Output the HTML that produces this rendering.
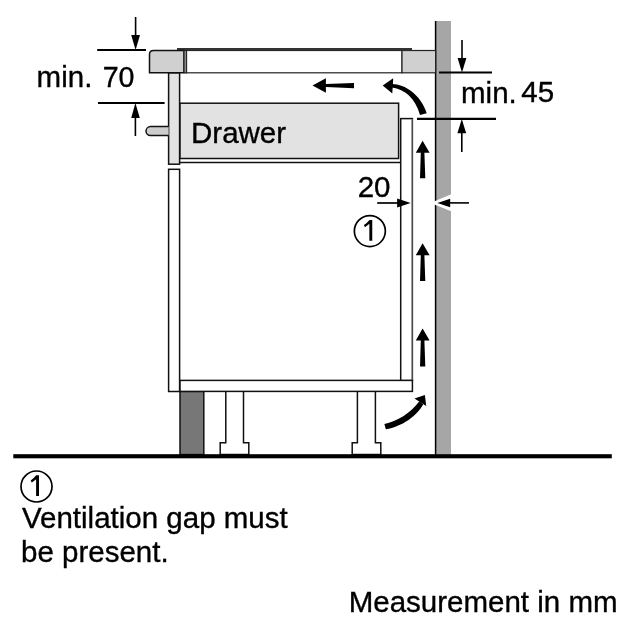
<!DOCTYPE html>
<html><head><meta charset="utf-8">
<style>
html,body{margin:0;padding:0;background:#fff;width:625px;height:625px;overflow:hidden}
svg{display:block;will-change:transform}
text{font-family:"Liberation Sans",sans-serif;fill:#000;stroke:#000;stroke-width:0.35px}
</style></head>
<body>
<svg width="625" height="625" viewBox="0 0 625 625">
<rect x="0" y="0" width="625" height="625" fill="#fff"/>

<!-- wall -->
<rect x="436" y="21" width="15" height="434" fill="#a6a6a6"/>
<line x1="435.6" y1="21" x2="435.6" y2="455" stroke="#000" stroke-width="1.5"/>

<!-- hob -->
<rect x="186" y="50.5" width="216" height="22.3" fill="#fff" stroke="#222" stroke-width="1.2"/>
<rect x="402" y="50.5" width="33.6" height="22.3" fill="#d0d0d0" stroke="#222" stroke-width="1.2"/>
<line x1="177" y1="49.2" x2="412" y2="49.2" stroke="#333" stroke-width="2.6"/>
<!-- counter block left -->
<path d="M149.5 72.8 V54.5 Q149.5 50.5 153.5 50.5 H184 V72.8 Z" fill="#d0d0d0" stroke="#111" stroke-width="1.5"/>
<rect x="184" y="50.5" width="2.6" height="22.3" fill="#8a8a8a" stroke="#222" stroke-width="1.1"/>

<!-- drawer front panel -->
<rect x="168.6" y="73" width="11" height="91.2" fill="#e2e2e2" stroke="#111" stroke-width="1.5"/>
<!-- lower door panel -->
<rect x="168.6" y="169.3" width="11" height="222.2" fill="#fff" stroke="#111" stroke-width="1.5"/>
<!-- handle -->
<path d="M168.6 126.6 H150.5 A4.5 4.5 0 0 0 150.5 135.6 H168.6" fill="#cdcdcd" stroke="#111" stroke-width="1.5"/>

<!-- drawer box -->
<rect x="180" y="103.2" width="218.6" height="55.3" fill="#e2e2e2" stroke="#111" stroke-width="1.5"/>
<line x1="180" y1="162.5" x2="400.6" y2="162.5" stroke="#111" stroke-width="1.5"/>

<!-- right back panel -->
<rect x="400.7" y="118.6" width="11.7" height="262" fill="#fff" stroke="#111" stroke-width="1.5"/>
<line x1="412.4" y1="119.4" x2="412.4" y2="380" stroke="#fff" stroke-width="1.6"/><line x1="412.3" y1="119.4" x2="412.3" y2="380" stroke="#444" stroke-width="1.3"/>

<!-- plinth -->
<rect x="180" y="391.4" width="23.8" height="63.2" fill="#777" stroke="#111" stroke-width="1.5"/>
<!-- legs -->
<path d="M225.8 391.4 V442.7 H220.2 V454.5 H248.8 V442.7 H243.5 V391.4" fill="#fff" stroke="#111" stroke-width="1.5"/>
<path d="M357.4 391.4 V442.7 H352.2 V454.5 H380.8 V442.7 H375.4 V391.4" fill="#fff" stroke="#111" stroke-width="1.5"/>

<!-- bottom board -->
<rect x="180" y="380.4" width="232.4" height="11" fill="#fff" stroke="#111" stroke-width="1.5"/>
<!-- floor -->
<rect x="13.3" y="454.2" width="598.5" height="4.1" fill="#000"/>

<!-- dim min 70 -->
<line x1="97.2" y1="50" x2="146" y2="50" stroke="#000" stroke-width="2.2"/>
<line x1="135.6" y1="17" x2="135.6" y2="38" stroke="#000" stroke-width="1.6"/>
<path d="M131.2 35 H140 L135.6 50 Z" fill="#000"/>
<line x1="98" y1="103" x2="164.6" y2="103" stroke="#000" stroke-width="2.2"/>
<line x1="135.4" y1="136" x2="135.4" y2="115" stroke="#000" stroke-width="1.6"/>
<path d="M131.2 118 H139.8 L135.4 103 Z" fill="#000"/>
<text x="36.6" y="86.9" font-size="29.5">min.</text><text x="102.7" y="86.6" font-size="28.6">70</text>

<!-- dim min 45 -->
<line x1="439" y1="72.5" x2="492" y2="72.5" stroke="#000" stroke-width="2.2"/>
<line x1="462" y1="40" x2="462" y2="62" stroke="#000" stroke-width="1.6"/>
<path d="M457.6 58 H466.4 L462 72.5 Z" fill="#000"/>
<line x1="417" y1="118.9" x2="496" y2="118.9" stroke="#000" stroke-width="2.2"/>
<line x1="461.8" y1="152" x2="461.8" y2="130" stroke="#000" stroke-width="1.6"/>
<path d="M457.4 133.2 H466.2 L461.8 118.9 Z" fill="#000"/>
<text x="461" y="102.7" font-size="29.5">min.</text><text x="521.3" y="102.4" font-size="29.5">45</text>

<text x="191" y="142.9" font-size="29.5">Drawer</text>

<!-- dim 20 -->
<text x="357.7" y="196.5" font-size="29.5">20</text>
<line x1="377.2" y1="203" x2="400" y2="203" stroke="#000" stroke-width="1.7"/>
<path d="M397.1 198.4 V207.4 L410.6 203 Z" fill="#000"/>
<path d="M430.5 202.9 L451.2 194.3 V211.2 Z" fill="#fff"/>
<path d="M450.2 198.8 V207.2 L437.4 202.9 Z" fill="#000"/>
<line x1="449" y1="202.9" x2="469" y2="202.9" stroke="#000" stroke-width="1.6"/>

<!-- circle 1 -->
<circle cx="369.85" cy="231.05" r="15.5" fill="none" stroke="#000" stroke-width="1.7"/>
<path transform="translate(369.85 231.05)" d="M2.4 9.7 H-0.5 V-7.2 Q-2.5 -5.2 -4.9 -3.8 L-5.9 -6.0 Q-2.6 -8.2 -0.4 -11.1 H2.4 Z" fill="#000"/>

<!-- arrows -->
<path d="M312.5 85.4 L325.9 78.3 V84.1 L354 82.9 V88.2 L325.9 86.9 V92.7 Z" fill="#000"/>
<path d="M392 84 C405 84 421 95 426.7 113.2 L420 114.9 C415 98 405 89.5 392 87.6 Z" fill="#000"/>
<path d="M382.7 85.4 L393.2 78.2 L392.3 93.5 Z" fill="#000"/>

<g fill="#000">
<path d="M422.6 140.8 L429.6 152.8 H424.4 L425.3 178.3 H420 L420.8 152.8 H415.8 Z"/>
<path d="M422.6 243.2 L429.6 255.2 H424.4 L425.3 281 H420 L420.8 255.2 H415.8 Z"/>
<path d="M422.6 328.6 L429.6 340.6 H424.4 L425.3 366.5 H420 L420.8 340.6 H415.8 Z"/>
</g>
<path d="M384.4 423.9 C397 421.8 410.5 413 419.4 401.3 L423.2 404.3 C418 415 402 427 385.8 429.2 Z" fill="#000"/>
<path d="M424.9 395.1 L414.5 398.4 L426.2 405.9 Z" fill="#000"/>

<!-- legend -->
<circle cx="36.5" cy="486.5" r="15.5" fill="none" stroke="#000" stroke-width="1.7"/>
<path transform="translate(36.5 486.5)" d="M2.5 9.6 H-0.4 V-7.3 Q-2.4 -5.3 -4.8 -3.9 L-5.8 -6.1 Q-2.5 -8.3 -0.3 -11.2 H2.5 Z" fill="#000"/>
<text x="22" y="528.2" font-size="29.5">Ventilation gap must</text>
<text x="21" y="561.5" font-size="29.5">be present.</text>
<text x="348.7" y="612.4" font-size="29.5">Measurement in mm</text>
</svg>
</body></html>
